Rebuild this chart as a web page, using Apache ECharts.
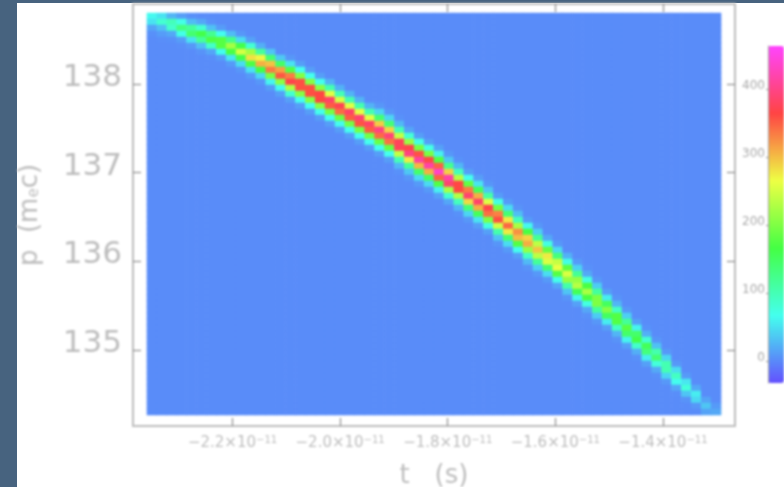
<!DOCTYPE html>
<html>
<head>
<meta charset="utf-8">
<style>
html,body{margin:0;padding:0;width:784px;height:487px;overflow:hidden;background:#47637f}
#paper{position:absolute;left:17px;top:3px;width:767px;height:484px;background:#fff}
#chart{position:absolute;left:0;top:0;width:784px;height:487px;filter:blur(1px)}
</style>
<script src="https://cdn.jsdelivr.net/npm/echarts@6/dist/echarts.min.js"></script>
</head>
<body>
<div id="paper"></div>
<div id="chart"></div>
<script>
const xTicks = [-2.2, -2.0, -1.8, -1.6, -1.4];
const yTicks = [135, 136, 137, 138];
const colorTicks = [0, 100, 200, 300, 400];
const tRange = [-2.359, -1.292];
const pRange = [134.267, 138.80];
const rowCount = 67;
const backgroundLevel = 2;
const bandStartRow = [0,0,0,0,0,1,1,2,3,3,4,5,6,7,7,8,9,10,11,12,13,14,15,15,16,17,19,20,21,22,23,24,26,27,28,30,31,32,34,35,37,38,40,41,42,44,46,47,49,51,52,54,56,58,60,62,64,65];
const bandValues = [
[64,51,15,4],[51,84,31,11,3],[25,97,86,18,4],[12,71,130,71,12,3],[4,29,115,141,51,9],[17,84,163,116,30,6],
[5,32,122,172,89,16,3],[11,66,176,176,66,11],[29,126,222,169,54,10],[8,47,162,250,162,47,8],[14,83,219,281,171,51,10],
[22,115,269,307,166,45,8],[34,138,297,335,197,62,12],[36,146,314,354,208,66,13],[8,51,175,334,369,228,84,13],
[12,67,204,358,358,204,67,12],[12,67,204,358,358,204,67,12],[12,68,207,363,363,207,68,12],[24,103,257,383,352,194,67,12],
[23,100,250,373,343,189,65,12],[24,103,257,383,352,194,67,12],[24,104,260,388,356,196,68,12],[24,103,257,383,352,194,67,12],
[8,44,140,292,397,344,188,68,12],[8,43,138,288,392,340,186,67,12],[5,27,100,240,376,376,240,100,27,5],[16,81,215,369,397,275,117,36,8],
[12,71,195,357,412,303,145,46,10],[12,72,197,361,417,307,147,46,10],[14,59,174,348,435,348,174,59,14],[8,36,123,289,416,387,225,85,17],
[5,26,96,231,362,362,231,96,26,5],[12,66,183,335,388,285,136,43,9],[12,52,154,308,385,308,154,52,12],[7,34,109,255,368,341,199,75,13],
[11,73,193,332,358,248,106,33,7],[10,47,138,276,345,276,138,47,10],[6,30,96,224,323,300,175,66,12],[10,63,167,287,309,214,91,28,6],
[9,40,118,236,295,236,118,40,9],[17,74,185,276,254,140,48,10],[9,46,132,240,262,176,70,16],[23,71,181,253,214,107,34,7],
[10,41,118,214,233,156,62,14],[5,18,74,169,225,169,74,18,5],[8,38,114,200,200,114,38,8],[12,57,150,205,150,57,12],
[6,25,91,175,175,91,25,6],[9,40,117,178,144,61,13],[13,61,143,163,88,22,5],[5,22,83,154,134,58,13],[7,32,104,138,78,19,4],
[9,44,102,102,44,9],[9,48,93,66,17,3],[10,53,78,34,6],[17,57,45,8],[15,35,15],[10,18]
];

const colCount = bandValues.length;
const tStep = (tRange[1] - tRange[0]) / colCount;
const pStep = (pRange[1] - pRange[0]) / rowCount;
const cells = [];
for (let i = 0; i < colCount; i++) {
  for (let j = 0; j < rowCount; j++) {
    const k = j - bandStartRow[i];
    const v = (k >= 0 && k < bandValues[i].length) ? Math.max(bandValues[i][k], backgroundLevel) : backgroundLevel;
    cells.push([tRange[0] + (i + 0.5) * tStep, pRange[1] - (j + 0.5) * pStep, v]);
  }
}

const grey = '#bdbdbd';
const font = 'DejaVu Sans';
const tickStyle = { color: '#8c8c8c', width: 1.2 };
const chart = echarts.init(document.getElementById('chart'), null, { renderer: 'canvas' });
chart.setOption({
  animation: false,
  backgroundColor: 'transparent',
  grid: [
    { left: 133, top: 4, width: 602, height: 422, show: true, outerBoundsMode: 'none', containLabel: false, borderColor: '#bdbdbd', borderWidth: 2, backgroundColor: 'transparent' },
    { left: 768, top: 46, width: 16, height: 337, show: false, outerBoundsMode: 'none', containLabel: false }
  ],
  xAxis: [
    { type: 'value', gridIndex: 0, position: 'bottom', min: -2.385, max: -1.266,
      name: 't   (s)', nameLocation: 'middle', nameGap: 37,
      nameTextStyle: { fontFamily: font, fontSize: 26, color: grey },
      splitLine: { show: false }, axisLine: { show: false },
      axisTick: { show: true, inside: true, length: 8, lineStyle: tickStyle, customValues: xTicks },
      axisLabel: { show: true, customValues: xTicks, margin: 9, color: grey, fontFamily: font, fontSize: 15,
        formatter: v => '−' + Math.abs(v).toFixed(1) + '×10{sup|−11}',
        rich: { sup: { fontSize: 10, color: grey, fontFamily: font, padding: [0, 0, 7, 0] } } } },
    { type: 'value', gridIndex: 0, position: 'top', min: -2.385, max: -1.266,
      splitLine: { show: false }, axisLine: { show: false }, axisLabel: { show: false },
      axisTick: { show: true, inside: true, length: 8, lineStyle: tickStyle, customValues: xTicks } },
    { type: 'value', gridIndex: 1, min: 0, max: 1, show: false }
  ],
  yAxis: [
    { type: 'value', gridIndex: 0, position: 'left', min: 134.143, max: 138.902,
      name: 'p  (m{sub|e}c)', nameLocation: 'middle', nameGap: 90, nameRotate: 90,
      nameTextStyle: { fontFamily: font, fontSize: 26, color: grey,
        rich: { sub: { fontSize: 15, color: grey, fontFamily: font, padding: [8, 0, 0, 0] } } },
      splitLine: { show: false }, axisLine: { show: false },
      axisTick: { show: true, inside: true, length: 8, lineStyle: tickStyle, customValues: yTicks },
      axisLabel: { show: true, customValues: yTicks, margin: 11, color: grey, fontFamily: font, fontSize: 31,
        verticalAlign: 'bottom', lineHeight: 12, formatter: v => String(v) } },
    { type: 'value', gridIndex: 0, position: 'right', min: 134.143, max: 138.902,
      splitLine: { show: false }, axisLine: { show: false }, axisLabel: { show: false },
      axisTick: { show: true, inside: true, length: 8, lineStyle: tickStyle, customValues: yTicks } },
    { type: 'value', gridIndex: 1, position: 'left', min: -32, max: 463, z: 10,
      splitLine: { show: false },
      axisLine: { show: true, lineStyle: { color: '#a0a0a0', width: 1 } },
      axisTick: { show: true, length: 2, lineStyle: { color: '#909090' }, customValues: colorTicks },
      axisLabel: { show: true, customValues: colorTicks, margin: 3, color: '#a8a8a8', fontFamily: font, fontSize: 12,
        verticalAlign: 'bottom', lineHeight: 6, formatter: v => String(v) } }
  ],
  visualMap: {
    type: 'continuous', show: true, seriesIndex: 0, dimension: 2,
    min: -32, max: 463, calculable: false, hoverLink: false, realtime: false,
    left: 768, top: 46, itemWidth: 16, itemHeight: 337, padding: 0, text: null, showLabel: false,
    textStyle: { color: 'transparent', fontSize: 1 },
    inRange: { color: ['#6450ff', '#44ffee', '#44ff44', '#eeff44', '#ff4444', '#ff44ff'] }
  },
  series: [{
    type: 'custom',
    xAxisIndex: 0,
    yAxisIndex: 0,
    data: cells,
    encode: { x: 0, y: 1 },
    silent: true,
    progressive: 0,
    renderItem: function (params, api) {
      const c = api.coord([api.value(0), api.value(1)]);
      const s = api.size([tStep, pStep]);
      return {
        type: 'rect',
        shape: { x: c[0] - s[0] / 2 - 0.3, y: c[1] - s[1] / 2 - 0.3, width: s[0] + 0.6, height: s[1] + 0.6 },
        style: { fill: api.visual('color'), stroke: null }
      };
    }
  }]
});
</script>
</body>
</html>
